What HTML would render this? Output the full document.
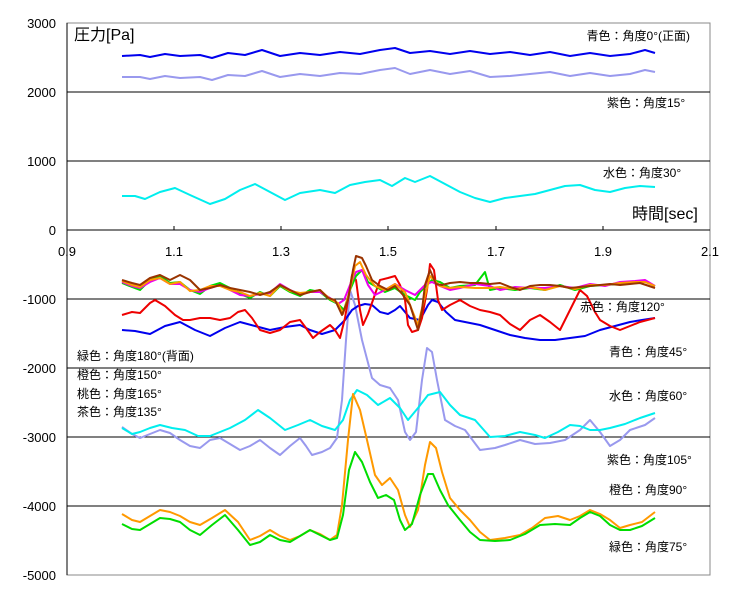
<!DOCTYPE html>
<html><head><meta charset="utf-8"><style>
body{margin:0;background:#fff;}
svg text{font-family:"Liberation Sans","Noto Sans CJK JP",sans-serif;fill:#000;}
</style></head><body>
<svg width="738" height="601" viewBox="0 0 738 601" xmlns="http://www.w3.org/2000/svg">
<rect width="738" height="601" fill="#fff"/>
<rect x="67" y="23" width="643" height="552" fill="none" stroke="#888" stroke-width="1"/>
<g stroke="#000" stroke-width="1">
<line x1="67" y1="92" x2="710" y2="92"/><line x1="67" y1="161" x2="710" y2="161"/>
<line x1="67" y1="299" x2="710" y2="299"/><line x1="67" y1="368" x2="710" y2="368"/>
<line x1="67" y1="437" x2="710" y2="437"/><line x1="67" y1="506" x2="710" y2="506"/>
<line x1="67" y1="230" x2="710" y2="230"/><line x1="67" y1="23" x2="67" y2="575"/>
<line x1="174" y1="226" x2="174" y2="230"/><line x1="281" y1="226" x2="281" y2="230"/><line x1="388" y1="226" x2="388" y2="230"/><line x1="496" y1="226" x2="496" y2="230"/><line x1="603" y1="226" x2="603" y2="230"/>
</g>
<g font-size="13" text-anchor="end">
<text x="56" y="28">3000</text><text x="56" y="97">2000</text><text x="56" y="166">1000</text><text x="56" y="235">0</text>
<text x="56" y="304">-1000</text><text x="56" y="373">-2000</text><text x="56" y="442">-3000</text><text x="56" y="511">-4000</text><text x="56" y="580">-5000</text>
</g>
<g font-size="13" text-anchor="middle">
<text x="67" y="256">0.9</text><text x="174" y="256">1.1</text><text x="281" y="256">1.3</text><text x="388" y="256">1.5</text><text x="496" y="256">1.7</text><text x="603" y="256">1.9</text><text x="710" y="256">2.1</text>
</g>
<g fill="none" stroke-width="2" stroke-linejoin="round">
<polyline stroke="#0000ee" points="122,56 140,55 150,57 165,54 180,56 200,55 212,58 228,53 245,55 262,50 280,56 300,53 320,55 340,52 360,54 380,50 395,48 410,53 430,51 450,54 470,51 490,54 510,52 530,55 550,52 570,56 590,53 610,56 630,54 645,50 655,53"/>
<polyline stroke="#9999ee" points="122,77 140,77 150,79 165,76 180,78 200,77 212,80 228,75 245,76 262,71 280,77 300,74 320,76 340,73 360,74 380,70 395,68 410,74 430,70 450,74 470,71 490,77 510,76 530,74 550,72 570,76 590,73 610,76 630,74 645,70 655,72"/>
<polyline stroke="#00eeee" points="122,196 135,196 145,199 160,192 175,188 190,195 210,204 225,199 240,190 255,184 270,192 285,200 300,193 320,190 335,193 350,185 365,182 380,180 392,186 405,178 415,182 430,176 445,184 460,192 475,198 490,202 505,198 520,196 535,194 550,190 565,186 580,185 595,190 610,192 625,188 640,186 655,187"/>
<polyline stroke="#9999ee" points="122,427 132,434 140,438 150,434 160,430 170,433 180,440 190,446 200,448 210,440 220,438 230,444 240,450 250,446 260,440 270,448 280,455 290,446 300,438 306,446 312,455 322,452 330,448 337,438 342,400 346,340 350,290 355,305 362,340 372,378 380,385 390,388 398,400 405,432 410,440 416,432 422,380 427,348 432,352 437,380 445,420 455,426 465,430 480,450 495,448 505,445 520,440 535,444 550,443 565,440 580,430 590,420 600,432 610,446 620,440 630,430 645,425 655,418"/>
<polyline stroke="#00eeee" points="122,428 132,434 140,432 150,428 160,425 172,428 185,430 198,436 210,436 220,432 230,428 245,420 258,410 270,418 285,430 298,425 310,420 322,426 335,430 343,420 350,400 357,390 367,395 378,405 390,398 400,408 408,420 418,408 428,395 440,392 450,405 460,415 475,420 490,437 505,436 520,432 535,435 545,438 558,432 570,425 580,426 590,430 600,430 610,428 625,424 640,418 655,413"/>
<polyline stroke="#ff9900" points="122,514 132,520 140,522 150,516 160,510 170,512 180,516 190,522 200,525 212,518 225,510 238,522 250,540 260,536 270,530 280,536 290,540 300,536 310,530 320,534 330,540 337,535 342,505 348,440 353,394 360,410 367,440 375,475 382,485 390,478 398,490 405,515 410,527 418,510 425,465 430,442 436,448 442,472 450,498 460,510 470,520 480,532 490,540 505,538 520,535 532,528 545,518 558,516 570,520 580,516 590,510 600,514 610,520 620,528 630,525 642,522 655,512"/>
<polyline stroke="#00dd00" points="122,524 132,529 140,530 150,524 160,518 170,519 180,522 190,530 200,535 212,525 225,515 238,530 250,545 260,542 270,535 280,540 290,542 300,536 310,530 320,535 330,540 337,538 343,515 349,470 355,452 362,462 370,482 378,498 386,495 394,500 400,520 405,530 412,524 420,495 428,474 433,474 440,490 448,505 460,520 470,532 480,540 495,541 510,540 525,534 540,525 555,524 570,525 580,518 590,512 600,516 610,525 620,530 630,530 642,526 655,518"/>
<polyline stroke="#0000ee" points="122,330 135,331 150,334 165,326 180,322 195,330 210,336 225,328 240,322 255,326 270,330 285,327 300,325 310,330 322,334 335,330 345,320 352,310 358,306 365,304 372,305 380,312 388,314 395,310 400,306 410,318 420,320 428,305 432,300 438,302 446,312 455,320 470,323 480,325 495,330 510,335 525,338 540,340 555,340 570,338 585,336 600,330 615,326 630,322 642,320 655,318"/>
<polyline stroke="#ee0000" points="122,315 132,312 140,313 150,303 155,300 165,306 175,315 183,320 190,320 200,318 210,318 220,320 230,318 238,312 245,310 252,318 260,330 270,333 280,330 290,322 300,320 306,328 313,338 320,332 330,325 335,330 340,338 345,318 348,300 352,275 356,280 360,310 363,325 368,314 373,300 380,280 388,278 395,276 400,285 405,300 408,325 412,332 418,330 422,318 427,290 430,264 434,270 438,300 442,310 450,305 460,300 470,306 480,310 490,312 500,315 510,324 520,330 530,320 540,315 550,322 560,330 570,310 580,290 587,296 595,312 600,320 610,326 620,330 630,326 640,322 655,318"/>
<polyline stroke="#00dd00" points="122,283 132,287 140,290 150,280 160,276 170,283 180,282 190,290 200,294 210,286 220,283 230,288 240,294 250,298 260,292 270,296 280,286 290,292 300,296 310,290 320,292 330,300 338,304 344,310 350,290 356,276 362,270 368,282 375,286 385,292 395,288 405,295 415,300 420,292 426,286 432,280 440,282 450,288 460,286 475,285 485,272 490,290 500,288 515,290 530,288 545,290 560,285 575,290 590,286 605,285 620,284 635,282 645,281 655,286"/>
<polyline stroke="#ee00ee" points="122,282 132,286 140,288 150,282 160,278 170,284 180,284 190,290 200,292 210,288 220,285 230,290 240,295 250,296 260,294 270,293 280,284 290,290 300,294 310,292 320,292 330,298 338,304 344,300 350,285 356,272 362,270 368,285 375,295 385,290 395,284 405,290 415,295 420,290 426,284 432,282 440,286 450,290 460,288 475,284 490,286 500,290 515,287 530,288 545,288 560,286 575,288 590,284 605,286 620,282 635,281 645,280 655,286"/>
<polyline stroke="#ff9900" points="122,281 132,285 140,287 150,280 160,278 170,284 180,282 190,291 200,290 210,286 220,286 230,290 240,292 250,296 260,293 270,296 280,285 290,291 300,293 310,292 320,290 330,299 338,303 343,314 350,290 355,266 360,262 366,275 375,286 385,290 395,284 405,292 412,310 418,325 424,300 430,276 436,282 440,286 450,288 460,287 475,288 490,288 500,287 515,289 530,287 545,290 560,286 575,289 590,285 605,285 620,283 635,282 645,282 655,286"/>
<polyline stroke="#993300" points="122,280 132,283 140,285 150,278 160,275 170,280 180,275 190,280 200,290 210,288 220,285 230,288 240,290 250,292 260,295 270,292 280,285 290,290 300,295 310,292 320,290 328,298 335,300 342,315 348,300 353,270 356,256 362,258 366,266 372,280 380,286 388,290 395,286 403,295 410,305 418,330 422,310 425,285 430,270 436,284 442,285 450,283 460,282 470,283 480,283 490,284 500,283 510,287 520,290 530,286 540,285 550,285 560,286 570,288 580,287 590,286 600,285 610,284 620,285 630,284 640,283 655,288"/>
</g>
<g font-size="16">
<text x="74" y="40" font-size="16">圧力[Pa]</text>
<text x="632" y="219">時間[sec]</text>
</g>
<g font-size="12">
<text x="690" y="40" text-anchor="end">青色：角度0°(正面)</text>
<text x="607" y="107">紫色：角度15°</text>
<text x="603" y="177">水色：角度30°</text>
<text x="580" y="311">赤色：角度120°</text>
<text x="609" y="356">青色：角度45°</text>
<text x="77" y="360">緑色：角度180°(背面)</text>
<text x="77" y="379">橙色：角度150°</text>
<text x="77" y="398">桃色：角度165°</text>
<text x="77" y="416">茶色：角度135°</text>
<text x="609" y="400">水色：角度60°</text>
<text x="607" y="464">紫色：角度105°</text>
<text x="609" y="494">橙色：角度90°</text>
<text x="609" y="551">緑色：角度75°</text>
</g>
</svg>
</body></html>
